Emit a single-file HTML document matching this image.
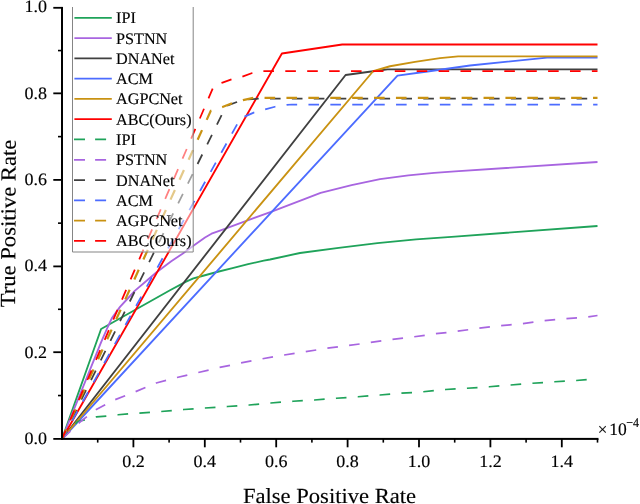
<!DOCTYPE html>
<html><head><meta charset="utf-8"><title>ROC</title>
<style>
html,body{margin:0;padding:0;background:#fff;overflow:hidden;}
svg{display:block;}
text{text-rendering:geometricPrecision;stroke:#000;stroke-width:0.15px;font-family:"Liberation Serif","Times New Roman",serif;fill:#000;}
</style></head><body>
<svg width="640" height="504" viewBox="0 0 640 504">
<rect x="0" y="0" width="640" height="504" fill="#fff"/>
<g fill="none" stroke-width="1.85" stroke-linejoin="round">
<path d="M62.00,439.00 L101.10,329.00 L170.00,290.30 L185.60,281.90 L193.40,278.30 L201.25,276.25 L216.90,272.00 L232.50,268.10 L248.10,264.20 L263.75,260.60 L270.00,259.50 L300.00,253.00 L338.70,247.90 L377.40,243.20 L416.10,239.40 L455.00,236.60 L597.50,226.00" stroke="#1fa35a"/>
<path d="M62.00,439.00 L101.25,341.90 L107.50,327.50 L111.90,318.10 L120.00,306.90 L127.50,298.75 L135.00,290.60 L147.50,280.00 L156.25,272.50 L171.25,261.25 L182.50,253.75 L193.75,245.60 L205.00,237.50 L211.50,233.70 L220.00,230.60 L246.30,220.80 L271.70,211.60 L305.00,198.90 L320.60,192.90 L351.60,185.20 L380.00,179.20 L408.40,175.40 L434.20,172.80 L455.00,171.30 L597.50,162.00" stroke="#a865e0"/>
<path d="M62.00,439.00 L345.60,75.00 L371.25,71.50 L387.50,69.30 L597.50,69.30" stroke="#404040"/>
<path d="M62.00,439.00 L397.50,75.60 L427.50,71.50 L470.00,65.50 L547.00,57.60 L597.50,57.60" stroke="#4c6cff"/>
<path d="M62.00,439.00 L373.10,71.25 L390.00,66.25 L415.00,61.90 L440.00,58.10 L458.10,56.30 L597.50,56.30" stroke="#c99212"/>
<path d="M62.00,439.00 L281.90,53.50 L342.20,44.50 L597.50,44.50" stroke="#ff0000"/>
<path d="M62.00,439.00 L77.50,421.50 L85.60,419.75 L96.25,416.90 L106.90,416.00 L118.10,414.75 L128.75,413.75 L161.25,411.50 L183.75,409.50 L205.00,408.00 L227.50,406.50 L249.25,405.00 L270.75,403.00 L293.00,401.25 L314.50,400.00 L336.25,398.25 L358.00,396.75 L380.00,395.00 L401.25,393.25 L423.25,391.75 L445.50,389.50 L467.00,388.25 L489.25,386.75 L510.75,385.00 L532.50,383.25 L554.50,381.75 L576.25,380.50 L597.50,378.50" stroke="#1fa35a" stroke-width="1.75" stroke-dasharray="10.6 11.3" stroke-dashoffset="1.6"/>
<path d="M62.00,439.00 L79.40,422.50 L95.60,409.75 L115.00,399.75 L135.00,391.90 L156.25,383.00 L177.00,377.50 L198.25,372.50 L219.50,367.50 L240.75,363.00 L262.50,358.75 L284.25,355.00 L305.50,351.75 L327.00,348.25 L348.75,345.50 L370.50,342.50 L392.00,339.50 L414.25,336.75 L435.75,333.75 L457.50,331.25 L478.75,328.25 L500.75,325.75 L522.50,323.75 L544.25,320.75 L565.75,318.75 L587.50,317.00 L597.50,315.50" stroke="#a865e0" stroke-width="1.75" stroke-dasharray="10.6 11.3" stroke-dashoffset="-1"/>
<path d="M62.00,439.00 L226.10,106.10 L236.25,102.25 L248.10,99.50 L258.10,98.70 L597.50,98.70" stroke="#404040" stroke-width="1.75" stroke-dasharray="10.6 11.3" stroke-dashoffset="0"/>
<path d="M62.00,439.00 L240.40,118.40 L253.75,112.60 L265.00,109.50 L275.00,106.75 L286.80,104.80 L292.00,104.50 L597.50,104.50" stroke="#4c6cff" stroke-width="1.75" stroke-dasharray="10.6 11.3" stroke-dashoffset="0.9"/>
<path d="M62.00,439.00 L210.80,110.80 L222.50,107.00 L232.50,103.00 L243.10,100.10 L253.75,97.80 L597.50,97.80" stroke="#c99212" stroke-width="2.2" stroke-dasharray="10.6 11.3" stroke-dashoffset="0"/>
<path d="M62.00,439.00 L214.00,85.50 L222.50,82.60 L231.90,79.25 L241.90,76.75 L252.25,73.00 L259.00,71.00 L597.50,71.00" stroke="#ff0000" stroke-width="1.75" stroke-dasharray="10.6 11.3" stroke-dashoffset="1.5"/>
</g>
<rect x="72.5" y="7" width="120.7" height="245" fill="#fff" fill-opacity="0.5"/>
<path d="M72.5,7 V252 H193.2 V7" fill="none" stroke="#858585" stroke-width="1"/>
<g stroke-width="1.75" fill="none">
<path d="M74.4,17.80 H111.8" stroke="#1fa35a"/>
<path d="M74.4,38.08 H111.8" stroke="#a865e0"/>
<path d="M74.4,58.36 H111.8" stroke="#404040"/>
<path d="M74.4,78.64 H111.8" stroke="#4c6cff"/>
<path d="M74.4,98.92 H111.8" stroke="#c99212"/>
<path d="M74.4,119.20 H111.8" stroke="#ff0000"/>
<path d="M74,139.48 H111.8" stroke="#1fa35a" stroke-dasharray="11 10.1"/>
<path d="M74,159.76 H111.8" stroke="#a865e0" stroke-dasharray="11 10.1"/>
<path d="M74,180.04 H111.8" stroke="#404040" stroke-dasharray="11 10.1"/>
<path d="M74,200.32 H111.8" stroke="#4c6cff" stroke-dasharray="11 10.1"/>
<path d="M74,220.60 H111.8" stroke="#c99212" stroke-dasharray="11 10.1"/>
<path d="M74,240.88 H111.8" stroke="#ff0000" stroke-dasharray="11 10.1"/>
</g>
<g font-size="16.2">
<text x="116" y="23.30">IPI</text>
<text x="116" y="43.58">PSTNN</text>
<text x="116" y="63.86">DNANet</text>
<text x="116" y="84.14">ACM</text>
<text x="116" y="104.42">AGPCNet</text>
<text x="116" y="124.70">ABC(Ours)</text>
<text x="116" y="144.98">IPI</text>
<text x="116" y="165.26">PSTNN</text>
<text x="116" y="185.54">DNANet</text>
<text x="116" y="205.82">ACM</text>
<text x="116" y="226.10">AGPCNet</text>
<text x="116" y="246.38">ABC(Ours)</text>
</g>
<g fill="#000">
<rect x="61" y="6.9" width="2" height="433"/>
<rect x="61" y="437.9" width="537.5" height="2"/>
<rect x="53.3" y="6.90" width="8" height="1.8"/>
<rect x="53.3" y="92.45" width="8" height="1.8"/>
<rect x="53.3" y="179.00" width="8" height="1.8"/>
<rect x="53.3" y="265.50" width="8" height="1.8"/>
<rect x="53.3" y="351.30" width="8" height="1.8"/>
<rect x="53.3" y="438.00" width="8" height="1.8"/>
<rect x="58" y="49.77" width="3.5" height="1.6"/>
<rect x="58" y="135.82" width="3.5" height="1.6"/>
<rect x="58" y="222.35" width="3.5" height="1.6"/>
<rect x="58" y="308.50" width="3.5" height="1.6"/>
<rect x="58" y="394.75" width="3.5" height="1.6"/>
<rect x="132.50" y="439" width="1.8" height="8.3"/>
<rect x="203.90" y="439" width="1.8" height="8.3"/>
<rect x="275.30" y="439" width="1.8" height="8.3"/>
<rect x="346.70" y="439" width="1.8" height="8.3"/>
<rect x="418.10" y="439" width="1.8" height="8.3"/>
<rect x="489.50" y="439" width="1.8" height="8.3"/>
<rect x="560.90" y="439" width="1.8" height="8.3"/>
<rect x="96.90" y="439" width="1.6" height="3.6"/>
<rect x="168.30" y="439" width="1.6" height="3.6"/>
<rect x="239.70" y="439" width="1.6" height="3.6"/>
<rect x="311.10" y="439" width="1.6" height="3.6"/>
<rect x="382.50" y="439" width="1.6" height="3.6"/>
<rect x="453.90" y="439" width="1.6" height="3.6"/>
<rect x="525.30" y="439" width="1.6" height="3.6"/>
<rect x="596.70" y="439" width="1.6" height="3.6"/>
</g>
<g font-size="18">
<text transform="translate(46.9,12.3) scale(1,0.97)" text-anchor="end">1.0</text>
<text transform="translate(46.9,98.75) scale(1,0.97)" text-anchor="end">0.8</text>
<text transform="translate(46.9,185.4) scale(1,0.97)" text-anchor="end">0.6</text>
<text transform="translate(46.9,271.1) scale(1,0.97)" text-anchor="end">0.4</text>
<text transform="translate(46.9,357.7) scale(1,0.97)" text-anchor="end">0.2</text>
<text transform="translate(46.9,444.2) scale(1,0.97)" text-anchor="end">0.0</text>
<text transform="translate(133.4,467.2) scale(1,0.97)" text-anchor="middle">0.2</text>
<text transform="translate(204.8,467.2) scale(1,0.97)" text-anchor="middle">0.4</text>
<text transform="translate(276.2,467.2) scale(1,0.97)" text-anchor="middle">0.6</text>
<text transform="translate(347.6,467.2) scale(1,0.97)" text-anchor="middle">0.8</text>
<text transform="translate(419.0,467.2) scale(1,0.97)" text-anchor="middle">1.0</text>
<text transform="translate(490.4,467.2) scale(1,0.97)" text-anchor="middle">1.2</text>
<text transform="translate(561.8,467.2) scale(1,0.97)" text-anchor="middle">1.4</text>
<text x="597.8" y="434.6" font-size="17">×</text><text x="609.3" y="434.8" font-size="17.5">10</text><text transform="translate(626.2,427.3) scale(1,1.1)" font-size="12">−4</text>
</g>
<text transform="translate(329.5,503.0) scale(1,0.95)" font-size="22.6" text-anchor="middle">False Positive Rate</text>
<text transform="translate(15.4,223.5) rotate(-89.7) scale(1,0.95)" font-size="22.65" text-anchor="middle">True Positive Rate</text>
</svg></body></html>
